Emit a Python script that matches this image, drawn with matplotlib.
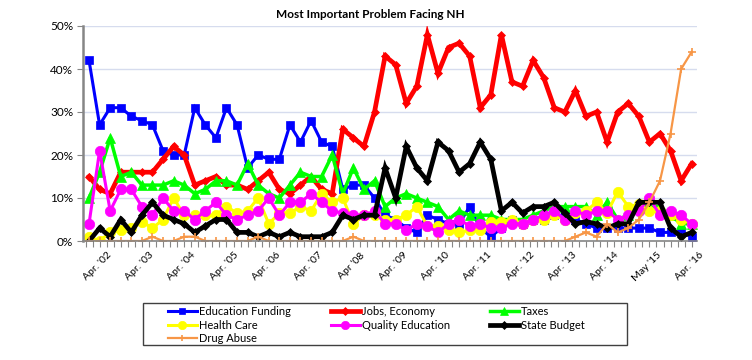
import numpy as np
import matplotlib
matplotlib.use("Agg")
import matplotlib.pyplot as plt
import matplotlib.transforms as mtransforms
from matplotlib.patches import Rectangle

# quarterly polls, early 2002 .. Apr 2016 (58 points), values in percent
edu_funding = [42, 27, 31, 31, 29, 28, 27, 21, 20, 20, 31, 27, 24, 31, 27, 17, 20, 19, 19, 27,
               23, 28, 23, 22, 12, 13, 13, 10, 6, 5, 3, 2, 6, 5, 4, 4, 8, 3, 1, 3,
               5, 4, 5, 5, 6, 6, 5, 4, 3, 3, 3, 3, 3, 3, 2, 2, 2, 1]
jobs_economy = [15, 12, 11, 16, 16, 16, 16, 19, 22, 20, 13, 14, 15, 13, 13, 12, 14, 16, 12,
                11, 13, 15, 12, 11, 26, 24, 22, 30, 43, 41, 32, 36, 48, 39, 45, 46, 43, 31, 34, 48,
                37, 36, 42, 38, 31, 30, 35, 29, 30, 23, 30, 32, 29, 23, 25, 21, 14, 18]
taxes = [10, 16, 24, 15, 16, 13, 13, 13, 14, 13, 11, 12, 14, 14, 13, 18, 13, 11, 10,
         13, 16, 15, 15, 20, 11, 17, 12, 14, 8, 10, 11, 10, 9, 8, 5, 7, 6, 6, 6, 5,
         5, 5, 6, 7, 8, 8, 8, 8, 6, 9, 5, 6, 8, 8, 8, 6, 4, 4]
health_care = [1, 0, 2, 2.5, 3, 4.5, 3, 5, 10, 6, 6, 6, 6, 8, 6.5, 7, 10, 4, 6.5,
               6.5, 8, 7, 11, 9, 10, 4, 6, 6, 5, 5, 6, 8, 3.5, 3.5, 2.5, 2, 2.5, 2.5, 4.5, 4.5,
               5, 4, 5, 5, 6, 5, 6.5, 7, 9, 6.5, 11.5, 8, 8.5, 7, 7, 6, 5, 4]
quality_edu = [4, 21, 7, 12, 12, 8, 6, 10, 7, 7, 5, 7, 9, 6, 5, 6, 7, 10, 6,
               9, 9, 11, 9, 7, 6.5, 6, 6, 7, 4, 4, 2.5, 4, 3.5, 2, 4, 5, 3.5, 4, 3, 3,
               4, 4, 5, 6, 7, 5, 7, 6, 7, 7, 5, 6, 7, 10, 6, 7, 6, 4]
state_budget = [0, 3, 1, 5, 2, 6, 9, 6, 5, 4, 2, 3.5, 5, 5, 2, 2, 1, 2, 1,
                2, 1, 1, 1, 2, 6, 5, 6, 6, 17, 10, 22, 17, 14, 23, 21, 16, 18, 23, 19, 7,
                9, 6.5, 8, 8, 9, 6.5, 4, 4.5, 4, 3, 4, 4, 9, 9, 9, 3, 1, 2]
drug_abuse = [0, 0, 0, 0, 0, 0, 1, 0, 0, 1, 1, 0, 0, 0, 0, 0, 1, 0, 0, 0,
              0, 0, 0, 0, 0, 1, 0, 0, 0, 0, 0, 0, 0, 0, 0, 0, 0, 0, 0, 0,
              0, 0, 0, 0, 0, 0, 1, 2, 1, 4, 2, 3, 5, 9, 14, 25, 40, 44]

tick_labels = ["Apr. '02", "Apr. '03", "Apr. '04", "Apr. '05", "Apr. '06", "Apr. '07", "Apr '08",
               "Apr. '09", "Apr. '10", "Apr. '11", "Apr. '12", "Apr. '13", "Apr. '14", "May '15",
               "Apr. '16"]

plt.rcParams["font.family"] = ["Lato", "DejaVu Sans"]

x = np.arange(len(edu_funding))
label_pos = x[1::4]

fig = plt.figure(figsize=(7.52, 3.6), dpi=100)
ax = fig.add_axes([83 / 752, 1 - 241 / 360, 614 / 752, 215 / 360])

series = [
    ("Education Funding", edu_funding, "#0000ff", "s", 5.5, 2.2),
    ("Jobs, Economy", jobs_economy, "#ff0000", "D", 4.5, 3.4),
    ("Taxes", taxes, "#00ff00", "^", 7, 2.5),
    ("Health Care", health_care, "#ffff00", "o", 7.5, 2.2),
    ("Quality Education", quality_edu, "#ff00ff", "o", 7.5, 2.2),
    ("State Budget", state_budget, "#000000", "D", 4.5, 3.4),
    ("Drug Abuse", drug_abuse, "#f79646", "+", 6, 1.6),
]
handles = {}
for name, vals, col, mk, ms, lw in series:
    h, = ax.plot(x, vals, color=col, marker=mk, markersize=ms, linewidth=lw,
                 markeredgecolor=col, markeredgewidth=1.2 if mk == "+" else 0.5,
                 label=name, solid_joinstyle="miter")
    handles[name] = h

ax.set_ylim(0, 50)
ax.set_xlim(-0.57, 57.5)
ax.set_yticks(np.arange(0, 51, 10))
ax.set_yticklabels([f"{v}%" for v in range(0, 51, 10)], fontsize=8.5)
ax.grid(True, axis="y", color="#d6dcee", linewidth=1.0)
ax.set_axisbelow(True)

# labelled ticks every 4 polls, plain tick marks every 2/3 of a poll
ax.set_xticks(label_pos)
ax.set_xticklabels(tick_labels, rotation=45, ha="right",
                   rotation_mode="anchor", fontsize=7.5)
ax.set_xticks(np.arange(-1 / 3, 57.6, 2 / 3), minor=True)
ax.tick_params(axis="x", which="both", length=4, color="#868686", width=0.8)
ax.tick_params(axis="x", which="major", pad=3)
ax.tick_params(axis="y", length=4, color="#868686", width=0.8, pad=3)
shift = mtransforms.ScaledTranslation(7 / 100, 0, fig.dpi_scale_trans)
for lab in ax.get_xticklabels():
    lab.set_transform(lab.get_transform() + shift)

for s in ["top", "right"]:
    ax.spines[s].set_visible(False)
ax.spines["left"].set_color("#868686")
ax.spines["left"].set_linewidth(1.8)
ax.spines["bottom"].set_color("#868686")
ax.spines["bottom"].set_linewidth(1.2)

fig.text(0.492, 1 - 15 / 360, "Most Important Problem Facing NH", ha="center", va="center",
         fontsize=8.5, fontweight="bold")

# legend: frame drawn by hand so it matches the wide Excel box
fig.patches.append(Rectangle((143 / 752, 1 - 345 / 360), 484 / 752, 42 / 360,
                             transform=fig.transFigure, fill=False,
                             edgecolor="#404040", linewidth=1.0))
order = ["Education Funding", "Health Care", "Drug Abuse", "Jobs, Economy",
         "Quality Education", "Taxes", "State Budget"]
fig.legend([handles[n] for n in order], order, ncol=3, frameon=False,
           loc="upper left", bbox_to_anchor=(160 / 752, 1 - 298 / 360),
           fontsize=8, handlelength=2.6, handletextpad=0.2, columnspacing=3.6,
           labelspacing=0.25, borderpad=0.2, markerscale=0.8)

fig.savefig("out.png", dpi=100)
